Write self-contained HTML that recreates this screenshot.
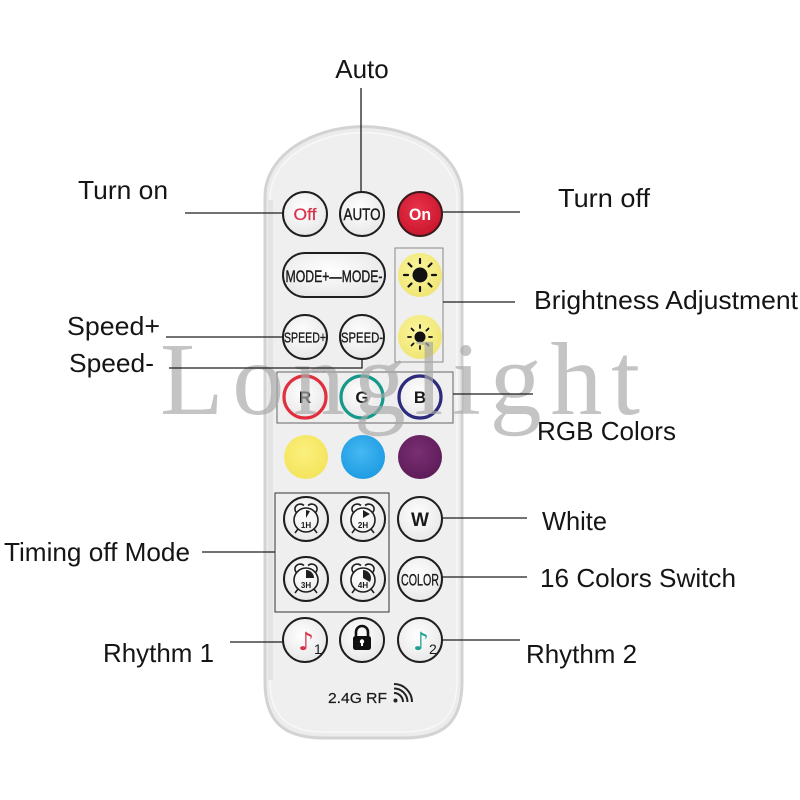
<!DOCTYPE html>
<html><head><meta charset="utf-8"><style>
html,body{margin:0;padding:0;background:#fff;}
svg{display:block;}
.lbl{font-family:"Liberation Sans",Arial,sans-serif;font-size:26px;fill:#151515;}
.bt{font-family:"Liberation Sans",Arial,sans-serif;fill:#1a1a1a;}
</style></head><body>
<svg width="800" height="800" viewBox="0 0 800 800" xmlns="http://www.w3.org/2000/svg">
<defs>
<radialGradient id="btn" cx="45%" cy="40%" r="65%"><stop offset="0" stop-color="#ffffff"/><stop offset="1" stop-color="#e6e6e6"/></radialGradient>
<radialGradient id="yel" cx="45%" cy="40%" r="65%"><stop offset="0" stop-color="#fbf6a0"/><stop offset="1" stop-color="#efe470"/></radialGradient>
<radialGradient id="yel2" cx="45%" cy="40%" r="65%"><stop offset="0" stop-color="#fbf07e"/><stop offset="1" stop-color="#f3e35a"/></radialGradient>
<radialGradient id="blu" cx="45%" cy="40%" r="65%"><stop offset="0" stop-color="#45b8f2"/><stop offset="1" stop-color="#1c9ae2"/></radialGradient>
<radialGradient id="pur" cx="45%" cy="40%" r="65%"><stop offset="0" stop-color="#7a2f74"/><stop offset="1" stop-color="#5c1b57"/></radialGradient>
<radialGradient id="red" cx="45%" cy="40%" r="65%"><stop offset="0" stop-color="#e8334a"/><stop offset="1" stop-color="#c8142c"/></radialGradient>
</defs>

<!-- remote body -->
<path d="M265,196 A98,69 0 0 1 462,196 L462,682 C462,722 444,738 404,738 L324,738 C284,738 265,722 265,682 Z" fill="#ececec" stroke="#d3d3d3" stroke-width="3"/>
<path d="M270,198 A93,65 0 0 1 457,198 L457,680 C457,716 441,732 404,732 L324,732 C287,732 270,716 270,680 Z" fill="#efefef" stroke="#f8f8f8" stroke-width="1.5"/>
<rect x="268" y="200" width="5" height="480" fill="#e4e4e4"/>

<!-- row 1 -->
<circle cx="305" cy="214" r="22" fill="url(#btn)" stroke="#1e1e1e" stroke-width="2"/>
<text x="305" y="220" text-anchor="middle" class="bt" font-size="17" style="fill:#d8344c" stroke="#d8344c" stroke-width="0.3" textLength="23" lengthAdjust="spacingAndGlyphs">Off</text>
<circle cx="362" cy="214" r="22" fill="url(#btn)" stroke="#1e1e1e" stroke-width="2"/>
<text x="362" y="220" text-anchor="middle" class="bt" font-size="17" stroke="#1a1a1a" stroke-width="0.4" textLength="37" lengthAdjust="spacingAndGlyphs">AUTO</text>
<circle cx="420" cy="214" r="22" fill="url(#red)" stroke="#3a1a1a" stroke-width="2"/>
<text x="420" y="220" text-anchor="middle" class="bt" font-size="17" style="fill:#fff" font-weight="bold" textLength="22" lengthAdjust="spacingAndGlyphs">On</text>

<!-- mode pill -->
<rect x="283" y="253" width="102" height="44" rx="22" fill="url(#btn)" stroke="#1e1e1e" stroke-width="2"/>
<text x="334" y="282" text-anchor="middle" class="bt" font-size="17" stroke="#1a1a1a" stroke-width="0.4" textLength="97" lengthAdjust="spacingAndGlyphs">MODE+—MODE-</text>

<!-- brightness -->
<rect x="395" y="248" width="48" height="114" fill="none" stroke="#8a8a8a" stroke-width="1"/>
<circle cx="420" cy="275" r="22" fill="url(#yel)"/>
<circle cx="420" cy="337" r="22" fill="url(#yel)"/>
<g stroke="#111" stroke-width="2.2" stroke-linecap="round">
<circle cx="420" cy="275" r="7.5" fill="#111" stroke="none"/>
<line x1="420" y1="263" x2="420" y2="259"/><line x1="420" y1="287" x2="420" y2="291"/>
<line x1="408" y1="275" x2="404" y2="275"/><line x1="432" y1="275" x2="436" y2="275"/>
<line x1="411.5" y1="266.5" x2="408.5" y2="263.5"/><line x1="428.5" y1="266.5" x2="431.5" y2="263.5"/>
<line x1="411.5" y1="283.5" x2="408.5" y2="286.5"/><line x1="428.5" y1="283.5" x2="431.5" y2="286.5"/>
</g>
<g stroke="#111" stroke-width="1.8" stroke-linecap="round">
<circle cx="420" cy="337" r="5.5" fill="#111" stroke="none"/>
<line x1="420" y1="328" x2="420" y2="325"/><line x1="420" y1="346" x2="420" y2="349"/>
<line x1="411" y1="337" x2="408" y2="337"/><line x1="429" y1="337" x2="432" y2="337"/>
<line x1="413.6" y1="330.6" x2="411.5" y2="328.5"/><line x1="426.4" y1="330.6" x2="428.5" y2="328.5"/>
<line x1="413.6" y1="343.4" x2="411.5" y2="345.5"/><line x1="426.4" y1="343.4" x2="428.5" y2="345.5"/>
</g>

<!-- speed -->
<circle cx="305" cy="337" r="22" fill="url(#btn)" stroke="#1e1e1e" stroke-width="2"/>
<text x="305" y="342.5" text-anchor="middle" class="bt" font-size="15" stroke="#1a1a1a" stroke-width="0.35" textLength="42" lengthAdjust="spacingAndGlyphs">SPEED+</text>
<circle cx="362" cy="337" r="22" fill="url(#btn)" stroke="#1e1e1e" stroke-width="2"/>
<text x="362" y="342.5" text-anchor="middle" class="bt" font-size="15" stroke="#1a1a1a" stroke-width="0.35" textLength="42" lengthAdjust="spacingAndGlyphs">SPEED-</text>

<!-- RGB -->
<rect x="277" y="372" width="176" height="51" fill="none" stroke="#666" stroke-width="1"/>
<circle cx="305" cy="397" r="21" fill="url(#btn)" stroke="#e0303f" stroke-width="3.2"/>
<circle cx="362" cy="397" r="21" fill="url(#btn)" stroke="#16998a" stroke-width="3.2"/>
<circle cx="420" cy="397" r="21" fill="url(#btn)" stroke="#2c2a7c" stroke-width="3.2"/>
<text x="305" y="403" text-anchor="middle" class="bt" font-size="17" font-weight="bold">R</text>
<text x="362" y="403" text-anchor="middle" class="bt" font-size="17" font-weight="bold">G</text>
<text x="420" y="403" text-anchor="middle" class="bt" font-size="17" font-weight="bold">B</text>

<!-- color row -->
<circle cx="306" cy="457" r="22" fill="url(#yel2)"/>
<circle cx="363" cy="457" r="22" fill="url(#blu)"/>
<circle cx="420" cy="457" r="22" fill="url(#pur)"/>

<!-- timer box -->
<rect x="275" y="493" width="114" height="119" fill="none" stroke="#333" stroke-width="1"/>
<circle cx="306" cy="519" r="22" fill="url(#btn)" stroke="#1e1e1e" stroke-width="2"/>
<circle cx="363" cy="519" r="22" fill="url(#btn)" stroke="#1e1e1e" stroke-width="2"/>
<circle cx="306" cy="579" r="22" fill="url(#btn)" stroke="#1e1e1e" stroke-width="2"/>
<circle cx="363" cy="579" r="22" fill="url(#btn)" stroke="#1e1e1e" stroke-width="2"/>
<g fill="none" stroke="#1e1e1e" stroke-width="1.6">
<g id="c1">
<circle cx="306" cy="520" r="12"/>
<path d="M297,513 a5.5,5.5 0 0 1 -2,-5 a5.5,5.5 0 0 1 9,-2.5"/>
<path d="M315,513 a5.5,5.5 0 0 0 2,-5 a5.5,5.5 0 0 0 -9,-2.5"/>
<line x1="298" y1="529" x2="295" y2="533"/><line x1="314" y1="529" x2="317" y2="533"/>
</g>
<use href="#c1" x="57" y="0"/>
<use href="#c1" x="0" y="60"/>
<use href="#c1" x="57" y="60"/>
</g>
<g fill="#1e1e1e">
<path d="M306,518 L306,510 L310,511.1 Z"/>
<path d="M363,518 L363,510 L369.9,514 Z"/>
<path d="M306,578 L306,570 A8,8 0 0 1 314,578 Z"/>
<path d="M363,578 L363,570 A8,8 0 0 1 369.9,582 Z"/>
</g>
<g class="bt" font-size="8" font-weight="bold" text-anchor="middle">
<text x="306" y="528">1H</text><text x="363" y="528">2H</text>
<text x="306" y="588">3H</text><text x="363" y="588">4H</text>
</g>

<!-- W / COLOR -->
<circle cx="420" cy="519" r="22" fill="url(#btn)" stroke="#1e1e1e" stroke-width="2"/>
<text x="420" y="526" text-anchor="middle" class="bt" font-size="19" font-weight="bold">W</text>
<circle cx="420" cy="579" r="22" fill="url(#btn)" stroke="#1e1e1e" stroke-width="2"/>
<text x="420" y="585.5" text-anchor="middle" class="bt" font-size="17" stroke="#1a1a1a" stroke-width="0.35" textLength="38" lengthAdjust="spacingAndGlyphs">COLOR</text>

<!-- rhythm row -->
<circle cx="305" cy="640" r="22" fill="url(#btn)" stroke="#1e1e1e" stroke-width="2"/>
<circle cx="362" cy="640" r="22" fill="url(#btn)" stroke="#1e1e1e" stroke-width="2"/>
<circle cx="420" cy="640" r="22" fill="url(#btn)" stroke="#1e1e1e" stroke-width="2"/>
<text x="306" y="650" text-anchor="middle" font-family="DejaVu Sans,sans-serif" font-size="25" fill="#d8344c">♪</text>
<text x="314" y="654" class="bt" font-size="14">1</text>
<text x="421" y="650" text-anchor="middle" font-family="DejaVu Sans,sans-serif" font-size="25" fill="#20a090">♪</text>
<text x="429" y="654" class="bt" font-size="14">2</text>
<path d="M356,637 v-5 a6,6 0 0 1 12,0 v5" fill="none" stroke="#111" stroke-width="2.6"/>
<rect x="353" y="636" width="18" height="14" rx="2.5" fill="#111"/>
<circle cx="362" cy="641.5" r="2.2" fill="#fff"/><rect x="361" y="642" width="2" height="4" fill="#fff"/>

<!-- RF -->
<text x="328" y="703" class="bt" font-size="15" stroke="#1a1a1a" stroke-width="0.2" textLength="59" lengthAdjust="spacingAndGlyphs">2.4G RF</text>
<g fill="none" stroke="#222" stroke-width="2">
<path d="M394,693 a9,9 0 0 1 9,9"/><path d="M394,688.5 a13.5,13.5 0 0 1 13.5,13.5"/><path d="M394,684 a18,18 0 0 1 18,18"/>
</g>
<circle cx="395.5" cy="700.5" r="2" fill="#222"/>

<!-- watermark -->
<text x="160" y="414" font-family="Liberation Serif,serif" font-size="104" fill="#a8a8a8" fill-opacity="0.68" textLength="480" lengthAdjust="spacing">Longlight</text>

<!-- connector lines -->
<g stroke="#1e1e1e" stroke-width="1.3" fill="none">
<line x1="361" y1="88" x2="361" y2="192"/>
<line x1="185" y1="213" x2="283" y2="213"/>
<line x1="442" y1="212" x2="520" y2="212"/>
<line x1="443" y1="302" x2="515" y2="302"/>
<line x1="166" y1="337" x2="283" y2="337"/>
<polyline points="169,368 362,368 362,359"/>
<line x1="453" y1="394" x2="533" y2="394"/>
<line x1="442" y1="518" x2="527" y2="518"/>
<line x1="442" y1="577" x2="527" y2="577"/>
<line x1="442" y1="640" x2="520" y2="640"/>
<line x1="202" y1="552" x2="275" y2="552"/>
<line x1="230" y1="642" x2="283" y2="642"/>
</g>

<!-- labels -->
<text x="362" y="78" text-anchor="middle" class="lbl">Auto</text>
<text x="78" y="199" class="lbl" textLength="90" lengthAdjust="spacingAndGlyphs">Turn on</text>
<text x="558" y="207" class="lbl" textLength="92" lengthAdjust="spacingAndGlyphs">Turn off</text>
<text x="534" y="309" class="lbl" textLength="264" lengthAdjust="spacingAndGlyphs">Brightness Adjustment</text>
<text x="67" y="335" class="lbl" textLength="93" lengthAdjust="spacingAndGlyphs">Speed+</text>
<text x="69" y="372" class="lbl" textLength="85" lengthAdjust="spacingAndGlyphs">Speed-</text>
<text x="537" y="440" class="lbl" textLength="139" lengthAdjust="spacingAndGlyphs">RGB Colors</text>
<text x="542" y="530" class="lbl" textLength="65" lengthAdjust="spacingAndGlyphs">White</text>
<text x="540" y="587" class="lbl" textLength="196" lengthAdjust="spacingAndGlyphs">16 Colors Switch</text>
<text x="4" y="561" class="lbl" textLength="186" lengthAdjust="spacingAndGlyphs">Timing off Mode</text>
<text x="103" y="662" class="lbl" textLength="111" lengthAdjust="spacingAndGlyphs">Rhythm 1</text>
<text x="526" y="663" class="lbl" textLength="111" lengthAdjust="spacingAndGlyphs">Rhythm 2</text>
</svg>
</body></html>
